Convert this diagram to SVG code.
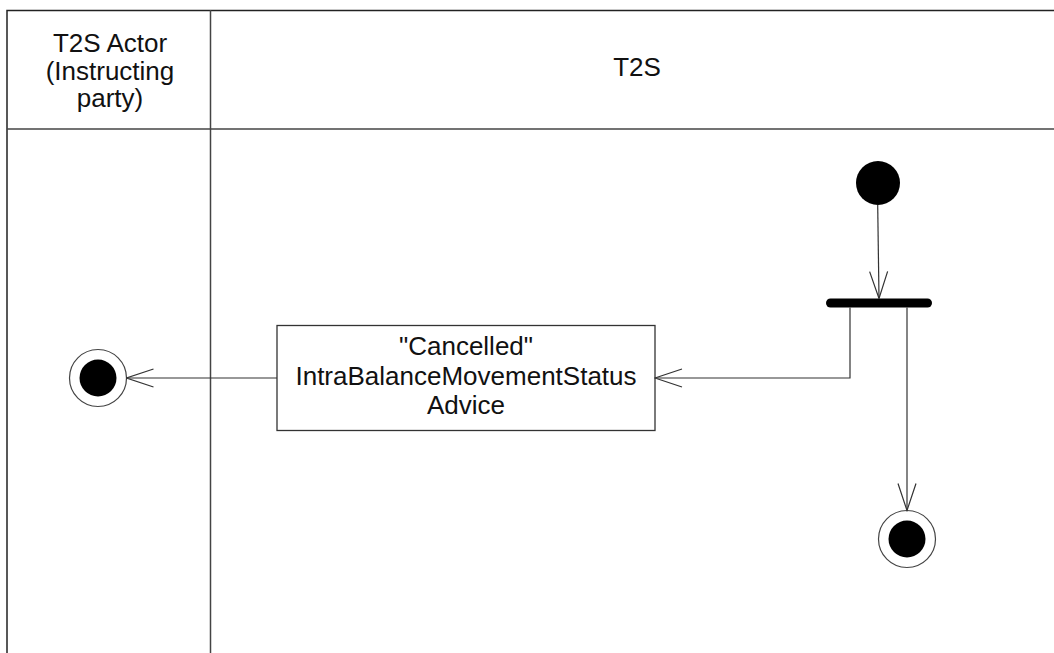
<svg xmlns="http://www.w3.org/2000/svg" width="1054" height="653" viewBox="0 0 1054 653">
<style>
.frame{fill:none;stroke:#222;stroke-width:1.5}
.lane{stroke:#444;stroke-width:1.5;fill:none}
.t{font-family:"Liberation Sans",Arial,sans-serif;font-size:26px;fill:#111;text-anchor:middle}
.edge{fill:none;stroke:#333;stroke-width:1.2}
.box{fill:#fff;stroke:#333;stroke-width:1.3}
</style>
<defs>
<marker id="open" viewBox="0 0 30 20" refX="29" refY="10" markerWidth="30" markerHeight="20" markerUnits="userSpaceOnUse" orient="auto">
<path d="M2,1 L29,10 L2,19" fill="none" stroke="#333" stroke-width="1.2"/>
</marker>
</defs>
<rect width="1054" height="653" fill="#fff"/>
<g id="swimlanes">
<path class="frame" d="M1054,10.5 H7 V653"/>
<line class="lane" x1="7" y1="129" x2="1054" y2="129"/>
<line class="lane" x1="210.5" y1="10" x2="210.5" y2="653"/>
<text class="t" x="110" y="52">T2S Actor</text>
<text class="t" x="110" y="80">(Instructing</text>
<text class="t" x="110" y="107">party)</text>
<text class="t" x="637" y="76">T2S</text>
</g>
<g id="start">
<circle cx="878" cy="183" r="22" fill="#000"/>
</g>
<g id="fork">
<rect x="826" y="298.5" width="106" height="9" rx="4.5" fill="#000"/>
</g>
<g id="action">
<rect class="box" x="277" y="325.5" width="378" height="105"/>
<text class="t" x="466" y="355">"Cancelled"</text>
<text class="t" x="466" y="384.5">IntraBalanceMovementStatus</text>
<text class="t" x="466" y="414">Advice</text>
</g>
<g id="end-left">
<circle cx="98" cy="378" r="28.5" fill="#fff" stroke="#444" stroke-width="1.2"/>
<circle cx="98" cy="378" r="18.5" fill="#000"/>
</g>
<g id="end-right">
<circle cx="907" cy="539" r="28.5" fill="#fff" stroke="#444" stroke-width="1.2"/>
<circle cx="907" cy="539" r="18.5" fill="#000"/>
</g>
<g id="connectors">
<path class="edge" d="M877.7,205 L879,298.5" marker-end="url(#open)"/>
<path class="edge" d="M850,307.5 V378 H655" marker-end="url(#open)"/>
<path class="edge" d="M907,307.5 V510.5" marker-end="url(#open)"/>
<path class="edge" d="M277,378 H126.5" marker-end="url(#open)"/>
</g>
</svg>
